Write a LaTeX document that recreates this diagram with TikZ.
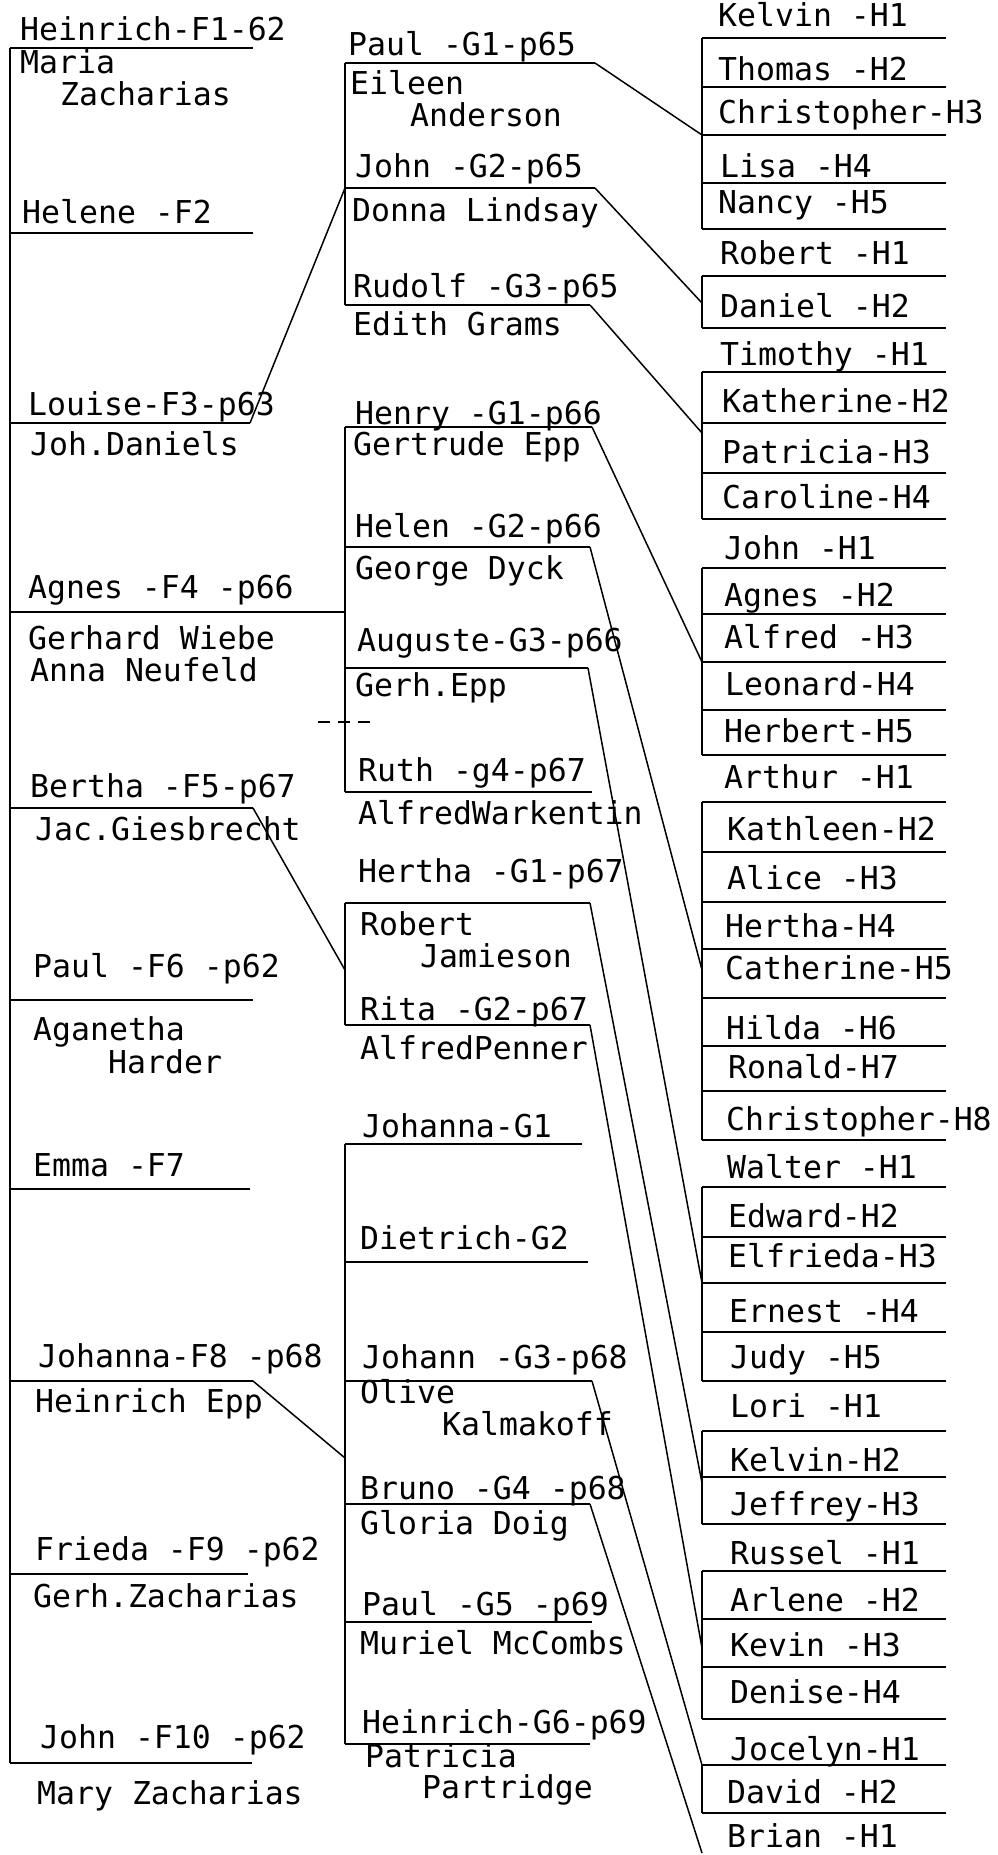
\documentclass[tikz,border=0pt]{standalone}
\usepackage{fontspec}
\usepackage{tikz}
\newfontfamily\plotfont{DejaVu Sans Mono}
\tikzset{
  lbl/.style={font=\plotfont\fontsize{31.5}{36}\selectfont, anchor=base west, inner sep=0pt},
  bar/.style={line width=2pt},
  trunk/.style={line width=2.4pt},
  link/.style={line width=1.5pt},
}
% one family rule with named ends
\newcommand{\fline}[4]{\draw[bar] (#2,#4) coordinate (#1-l) -- (#3,#4) coordinate (#1-r);}

\begin{document}
\begin{tikzpicture}[x=1pt,y=-1pt]
\useasboundingbox (0,0) rectangle (997,1855);

% F generation
\node[lbl] (f1) at (20,40) {Heinrich-F1-62}; \fline{f1}{10}{253}{48}
\node[lbl] (f1sp) at (20,73) {Maria};
\node[lbl] (f1sp2) at (60,105) {Zacharias};
\node[lbl] (f2) at (22,223) {Helene -F2}; \fline{f2}{10}{253}{233}
\node[lbl] (f3) at (28,415) {Louise-F3-p63}; \fline{f3}{10}{250}{423}
\node[lbl] (f3sp) at (30,455) {Joh.Daniels};
\node[lbl] (f4) at (28,598) {Agnes -F4 -p66}; \fline{f4}{10}{345}{612}
\node[lbl] (f4sp) at (28,649) {Gerhard Wiebe};
\node[lbl] (f4sp2) at (30,681) {Anna Neufeld};
\node[lbl] (f5) at (30,797) {Bertha -F5-p67}; \fline{f5}{10}{253}{808}
\node[lbl] (f5sp) at (35,840) {Jac.Giesbrecht};
\node[lbl] (f6) at (33,977) {Paul -F6 -p62}; \fline{f6}{10}{253}{1000}
\node[lbl] (f6sp) at (33,1040) {Aganetha};
\node[lbl] (f6sp2) at (108,1073) {Harder};
\node[lbl] (f7) at (33,1176) {Emma -F7}; \fline{f7}{10}{250}{1189}
\node[lbl] (f8) at (38,1367) {Johanna-F8 -p68}; \fline{f8}{10}{253}{1381}
\node[lbl] (f8sp) at (35,1412) {Heinrich Epp};
\node[lbl] (f9) at (35,1560) {Frieda -F9 -p62}; \fline{f9}{10}{248}{1574}
\node[lbl] (f9sp) at (33,1607) {Gerh.Zacharias};
\node[lbl] (f10) at (40,1748) {John -F10 -p62}; \fline{f10}{10}{252}{1763}
\node[lbl] (f10sp) at (37,1804) {Mary Zacharias};
\draw[trunk] (f1-l) -- (f10-l);

% G generation
\node[lbl] (ga1) at (348,55) {Paul -G1-p65}; \fline{ga1}{345}{595}{63}
\node[lbl] (ga1sp) at (350,94) {Eileen};
\node[lbl] (ga1sp2) at (410,126) {Anderson};
\node[lbl] (ga2) at (355,177) {John -G2-p65}; \fline{ga2}{345}{595}{188}
\node[lbl] (ga2sp) at (352,221) {Donna Lindsay};
\node[lbl] (ga3) at (353,297) {Rudolf -G3-p65}; \fline{ga3}{345}{590}{305}
\node[lbl] (ga3sp) at (353,335) {Edith Grams};
\draw[trunk] (ga1-l) -- (ga3-l);

\node[lbl] (gb1) at (355,424) {Henry -G1-p66}; \fline{gb1}{345}{592}{427}
\node[lbl] (gb1sp) at (353,455) {Gertrude Epp};
\node[lbl] (gb2) at (355,537) {Helen -G2-p66}; \fline{gb2}{345}{590}{547}
\node[lbl] (gb2sp) at (355,579) {George Dyck};
\node[lbl] (gb3) at (357,651) {Auguste-G3-p66}; \fline{gb3}{345}{588}{668}
\node[lbl] (gb3sp) at (355,696) {Gerh.Epp};
\node[lbl] (gb4) at (358,781) {Ruth -g4-p67}; \fline{gb4}{345}{592}{792}
\node[lbl] (gb4sp) at (358,824) {AlfredWarkentin};
\draw[trunk] (gb1-l) -- (gb4-l);
\draw[bar, dash pattern=on 12pt off 8pt] (318,722) -- (372,722);

\node[lbl] (gc1) at (358,882) {Hertha -G1-p67}; \fline{gc1}{345}{590}{903}
\node[lbl] (gc1sp) at (360,935) {Robert};
\node[lbl] (gc1sp2) at (420,967) {Jamieson};
\node[lbl] (gc2) at (360,1020) {Rita -G2-p67}; \fline{gc2}{345}{590}{1025}
\node[lbl] (gc2sp) at (360,1059) {AlfredPenner};
\draw[trunk] (gc1-l) -- (gc2-l);
\coordinate (gc-in) at (345,970);

\node[lbl] (gd1) at (362,1137) {Johanna-G1}; \fline{gd1}{345}{582}{1144}
\node[lbl] (gd2) at (360,1249) {Dietrich-G2}; \fline{gd2}{345}{588}{1262}
\node[lbl] (gd3) at (362,1368) {Johann -G3-p68}; \fline{gd3}{345}{592}{1381}
\node[lbl] (gd3sp) at (360,1403) {Olive};
\node[lbl] (gd3sp2) at (442,1435) {Kalmakoff};
\node[lbl] (gd4) at (360,1499) {Bruno -G4 -p68}; \fline{gd4}{345}{590}{1504}
\node[lbl] (gd4sp) at (360,1534) {Gloria Doig};
\node[lbl] (gd5) at (362,1615) {Paul -G5 -p69}; \fline{gd5}{345}{592}{1622}
\node[lbl] (gd5sp) at (360,1654) {Muriel McCombs};
\node[lbl] (gd6) at (362,1733) {Heinrich-G6-p69}; \fline{gd6}{345}{590}{1744}
\node[lbl] (gd6sp) at (365,1767) {Patricia};
\node[lbl] (gd6sp2) at (422,1798) {Partridge};
\draw[trunk] (gd1-l) -- (gd6-l);
\coordinate (gd-in) at (345,1458);

% H generation
\foreach \x/\t/\b/\l [count=\i] in {
  718/Kelvin -H1/26/38, 718/Thomas -H2/80/87, 718/Christopher-H3/123/135,
  720/Lisa -H4/177/183, 718/Nancy -H5/213/229,
  720/Robert -H1/264/276, 720/Daniel -H2/317/328,
  720/Timothy -H1/365/372, 722/Katherine-H2/412/423, 722/Patricia-H3/463/473,
  722/Caroline-H4/508/519,
  724/John -H1/559/568, 724/Agnes -H2/606/614, 724/Alfred -H3/648/662,
  725/Leonard-H4/695/710, 724/Herbert-H5/742/755,
  724/Arthur -H1/788/802, 727/Kathleen-H2/840/852, 727/Alice -H3/889/902,
  725/Hertha-H4/937/949, 725/Catherine-H5/979/998, 726/Hilda -H6/1039/1046,
  728/Ronald-H7/1078/1091, 726/Christopher-H8/1130/1140,
  727/Walter -H1/1178/1187, 728/Edward-H2/1227/1237, 728/Elfrieda-H3/1267/1283,
  729/Ernest -H4/1322/1332, 730/Judy -H5/1368/1381,
  730/Lori -H1/1417/1431, 730/Kelvin-H2/1471/1477, 730/Jeffrey-H3/1515/1524,
  730/Russel -H1/1564/1571, 730/Arlene -H2/1611/1619, 730/Kevin -H3/1656/1667,
  730/Denise-H4/1703/1719,
  730/Jocelyn-H1/1760/1765, 727/David -H2/1803/1813} {
  \node[lbl] (h\i) at (\x,\b) {\t};
  \draw[bar] (702,\l) coordinate (h\i-l) -- (946,\l);
}
\node[lbl] (h39) at (727,1847) {Brian -H1};

\draw[trunk] (h1-l) -- (h5-l);
\draw[trunk] (h6-l) -- (h7-l);
\draw[trunk] (h8-l) -- (h11-l);
\draw[trunk] (h12-l) -- (h16-l);
\draw[trunk] (h17-l) -- (h24-l);
\draw[trunk] (h25-l) -- (h29-l);
\draw[trunk] (h30-l) -- (h32-l);
\draw[trunk] (h33-l) -- (h36-l);
\draw[trunk] (h37-l) -- (h38-l);
\coordinate (hb-in) at (702,303);
\coordinate (hc-in) at (702,433);
\coordinate (he-in) at (702,970);
\coordinate (hg-in) at (702,1483);
\coordinate (hh-in) at (702,1648);
\coordinate (hj-in) at (702,1853);

% links between generations
\draw[link] (f3-r) -- (ga2-l);
\draw[link] (f5-r) -- (gc-in);
\draw[link] (f8-r) -- (gd-in);
\draw[link] (ga1-r) -- (h3-l);
\draw[link] (ga2-r) -- (hb-in);
\draw[link] (ga3-r) -- (hc-in);
\draw[link] (gb1-r) -- (h14-l);
\draw[link] (gb2-r) -- (he-in);
\draw[link] (gb3-r) -- (h27-l);
\draw[link] (gc1-r) -- (hg-in);
\draw[link] (gc2-r) -- (hh-in);
\draw[link] (gd3-r) -- (h37-l);
\draw[link] (gd4-r) -- (hj-in);
\end{tikzpicture}
\end{document}
